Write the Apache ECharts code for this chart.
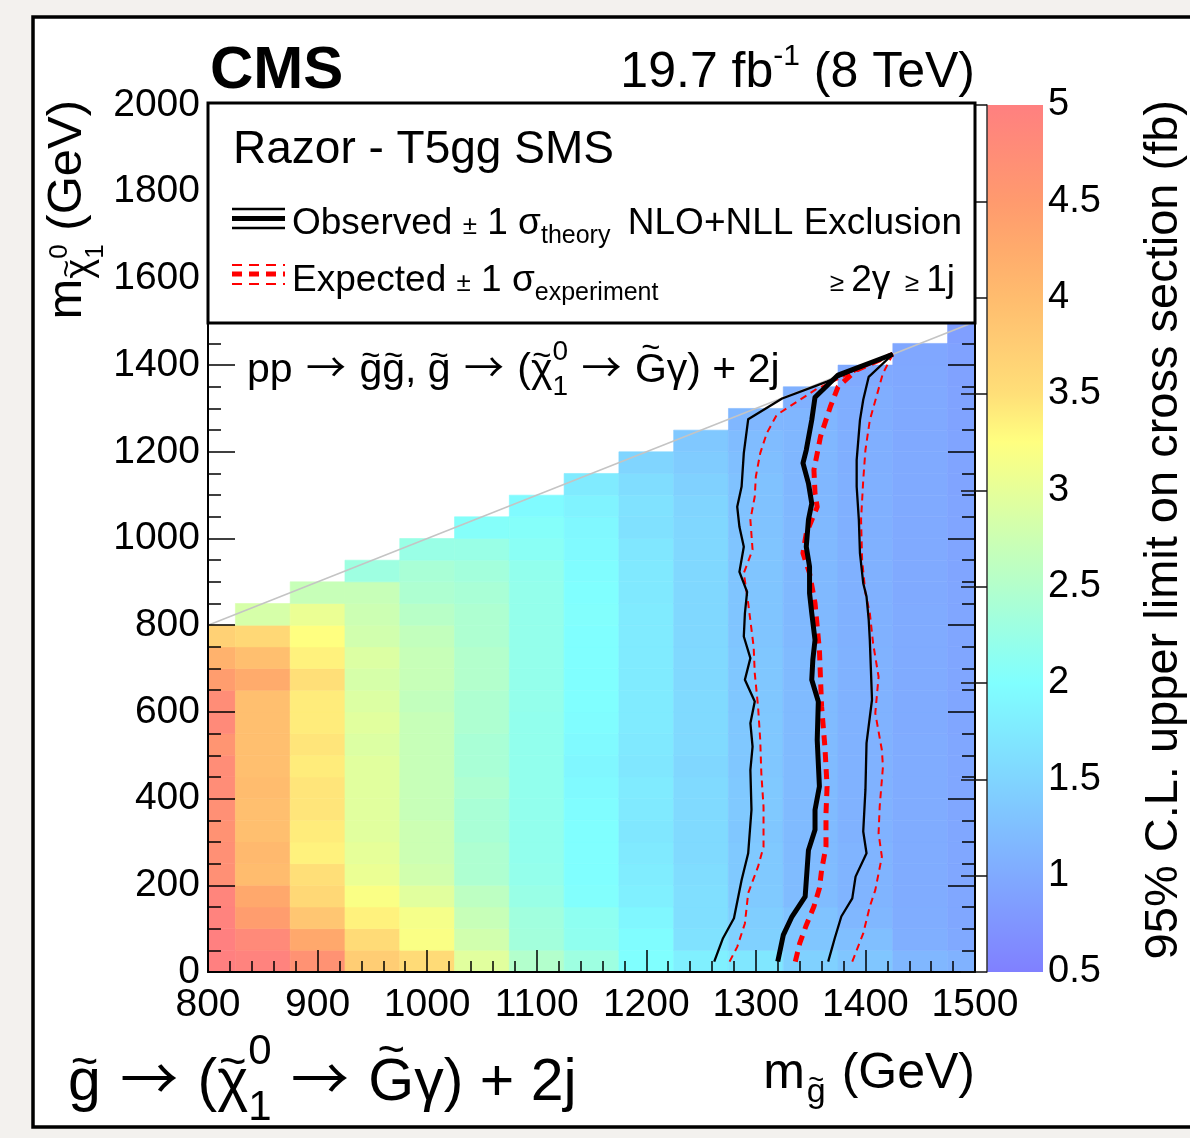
<!DOCTYPE html>
<html>
<head>
<meta charset="utf-8">
<script src="https://cdn.jsdelivr.net/npm/echarts/dist/echarts.min.js"></script>
<style>
  html, body { margin: 0; padding: 0; background: #f3f1ee; }
  #chart { width: 1190px; height: 1138px; }
</style>
</head>
<body>
<div id="chart"></div>
<script>
// ---------------------------------------------------------------
// T5gg razor search: 95% CL upper limit on the cross section (fb)
// per gluino mass column, one value per 50 GeV neutralino-mass bin
// (bottom bin first).
// ---------------------------------------------------------------
const gluinoMasses = [800, 850, 900, 950, 1000, 1050, 1100, 1150, 1200, 1250, 1300, 1350, 1400, 1450, 1500];

const ul800  = [5.0, 5.0, 4.95, 4.9, 4.7, 4.7, 4.65, 4.7, 4.75, 4.75, 4.6, 4.8, 4.75, 4.45, 4.15, 3.7];
const ul850  = [4.95, 4.8, 4.45, 4.3, 4.0, 4.05, 3.95, 3.95, 4.0, 3.95, 3.95, 3.95, 3.95, 4.25, 3.95, 3.6, 2.85];
const ul900  = [4.65, 4.3, 3.85, 3.6, 3.5, 3.35, 3.4, 3.45, 3.45, 3.4, 3.45, 3.4, 3.4, 3.5, 3.35, 3.25, 3.05, 2.7];
const ul950  = [3.75, 3.55, 3.35, 3.2, 3.05, 3.0, 2.95, 2.95, 2.95, 2.95, 2.9, 2.95, 2.9, 2.85, 2.9, 2.8, 2.75, 2.7, 2.3];
const ul1000 = [3.55, 3.2, 3.15, 2.95, 2.8, 2.75, 2.75, 2.7, 2.7, 2.7, 2.7, 2.7, 2.65, 2.7, 2.7, 2.65, 2.55, 2.45, 2.4, 2.25];
const ul1050 = [2.95, 2.8, 2.7, 2.6, 2.45, 2.45, 2.4, 2.4, 2.45, 2.4, 2.4, 2.45, 2.45, 2.5, 2.5, 2.45, 2.45, 2.4, 2.35, 2.25, 2.05];
const ul1100 = [2.5, 2.35, 2.33, 2.25, 2.2, 2.18, 2.18, 2.18, 2.18, 2.18, 2.18, 2.18, 2.2, 2.2, 2.2, 2.2, 2.2, 2.2, 2.18, 2.1, 2.05, 1.95];
const ul1150 = [2.3, 2.16, 2.14, 2.02, 2.0, 2.0, 2.0, 1.98, 1.94, 1.9, 1.94, 1.98, 2.0, 2.0, 2.0, 2.0, 2.02, 2.0, 1.98, 1.94, 1.92, 1.86, 1.76];
const ul1200 = [2.0, 1.98, 1.9, 1.82, 1.78, 1.75, 1.72, 1.75, 1.76, 1.72, 1.74, 1.76, 1.76, 1.76, 1.76, 1.76, 1.76, 1.74, 1.74, 1.72, 1.64, 1.66, 1.6, 1.5];
const ul1250 = [1.82, 1.66, 1.62, 1.62, 1.6, 1.56, 1.56, 1.56, 1.56, 1.52, 1.56, 1.56, 1.56, 1.55, 1.55, 1.54, 1.54, 1.54, 1.54, 1.54, 1.52, 1.5, 1.46, 1.4, 1.35];
const ul1300 = [1.72, 1.46, 1.42, 1.38, 1.36, 1.36, 1.34, 1.36, 1.36, 1.34, 1.35, 1.35, 1.34, 1.34, 1.34, 1.32, 1.32, 1.32, 1.32, 1.32, 1.3, 1.28, 1.28, 1.25, 1.22, 1.16];
const ul1350 = [1.45, 1.33, 1.3, 1.22, 1.22, 1.2, 1.2, 1.2, 1.2, 1.2, 1.2, 1.2, 1.2, 1.2, 1.2, 1.18, 1.18, 1.18, 1.18, 1.18, 1.18, 1.17, 1.16, 1.16, 1.15, 1.14, 1.08];
const ul1400 = [1.33, 1.25, 1.15, 1.12, 1.12, 1.12, 1.1, 1.1, 1.1, 1.1, 1.1, 1.1, 1.1, 1.1, 1.1, 1.08, 1.08, 1.08, 1.08, 1.08, 1.07, 1.07, 1.07, 1.06, 1.06, 1.05, 1.05, 1.0];
const ul1450 = [1.16, 1.06, 1.03, 1.02, 1.02, 1.02, 1.02, 1.02, 1.02, 1.02, 1.02, 1.01, 1.01, 1.01, 1.01, 1.01, 1.01, 1.0, 1.0, 1.0, 1.0, 1.0, 1.0, 1.0, 0.99, 0.99, 0.99, 0.98, 0.97];
const ul1500 = [1.1, 0.99, 0.97, 0.97, 0.96, 0.96, 0.96, 0.96, 0.96, 0.96, 0.96, 0.95, 0.95, 0.95, 0.95, 0.95, 0.95, 0.95, 0.94, 0.94, 0.94, 0.94, 0.93, 0.93, 0.93, 0.92, 0.92, 0.91, 0.9, 0.87];

const upperLimits = [ul800, ul850, ul900, ul950, ul1000, ul1050, ul1100, ul1150, ul1200, ul1250, ul1300, ul1350, ul1400, ul1450, ul1500];

// Exclusion contours, [m_gluino, m_neutralino] in GeV
const observed = [[1320,24],[1325,85],[1333,128],[1345,174],[1348,281],[1354,328],[1354,374],[1358,428],[1356,535],[1357,624],[1351,674],[1352,720],[1354,766],[1351,828],[1349,874],[1349,935],[1346,981],[1348,1043],[1351,1081],[1348,1127],[1343,1174],[1346,1204],[1351,1273],[1354,1326],[1375,1377],[1425,1425]];
const observedMinus = [[1262,24],[1270,78],[1280,124],[1287,212],[1293,274],[1296,374],[1295,466],[1297,520],[1295,574],[1299,624],[1290,674],[1295,724],[1289,774],[1290,827],[1292,877],[1285,923],[1289,981],[1285,1027],[1283,1073],[1287,1120],[1289,1197],[1293,1275],[1324,1323],[1365,1362],[1425,1425]];
const observedPlus = [[1366,24],[1372,78],[1378,128],[1388,170],[1391,220],[1401,274],[1398,324],[1400,420],[1401,528],[1406,628],[1404,766],[1403,812],[1401,866],[1398,897],[1395,966],[1394,1043],[1392,1120],[1392,1181],[1395,1273],[1398,1320],[1403,1373],[1425,1425]];
const expected = [[1336,24],[1340,66],[1346,108],[1353,151],[1358,193],[1360,235],[1364,289],[1364,366],[1365,428],[1363,520],[1360,612],[1358,743],[1354,851],[1349,920],[1343,966],[1346,1012],[1356,1073],[1354,1104],[1353,1158],[1359,1235],[1368,1304],[1375,1350],[1392,1389],[1425,1425]];
const expectedMinus = [[1276,24],[1283,58],[1290,112],[1293,182],[1302,243],[1307,289],[1307,381],[1305,458],[1304,535],[1302,612],[1299,689],[1298,750],[1293,851],[1289,920],[1297,974],[1295,1043],[1299,1097],[1300,1143],[1304,1197],[1310,1243],[1319,1285],[1356,1346],[1425,1425]];
const expectedPlus = [[1388,24],[1398,89],[1404,151],[1409,189],[1415,266],[1412,320],[1413,381],[1416,474],[1415,512],[1409,597],[1412,681],[1407,758],[1404,828],[1400,874],[1397,950],[1396,1043],[1398,1135],[1400,1204],[1404,1273],[1410,1327],[1416,1381],[1425,1425]];

// m_neutralino = m_gluino kinematic boundary
const diagonal = [[800, 800], [1500, 1500]];

// colour scale range (fb)
const colorRange = [0.5, 5];

// ---------------------------------------------------------------
const FAMILY = '"Liberation Sans", Arial, Helvetica, sans-serif';
const ARROW_FAMILY = '"Noto Sans CJK SC", "DejaVu Sans", sans-serif';
const BIN_HALF_WIDTH = 25;   // GeV, gluino-mass bin half width
const ROW_HEIGHT = 50;       // GeV, neutralino-mass bin height

// pastel rainbow palette, evenly spaced from 0.5 to 5 fb
const PALETTE = ['#8080ff', '#8095ff', '#80aaff', '#80bfff', '#80d5ff', '#80eaff', '#80ffff',
  '#99ffe6', '#b3ffcc', '#ccffb3', '#e6ff99', '#ffff80', '#ffdf78', '#ffcd74', '#ffbc6e',
  '#ffab6c', '#ff9a6e', '#ff8d77', '#ff8080'];

const cells = [];
gluinoMasses.forEach((mg, c) => {
  upperLimits[c].forEach((v, r) => cells.push([mg, r * ROW_HEIGHT, v]));
});

// ---- text helpers: baseline-positioned runs with sub/superscripts and tildes
const meter = document.createElement('canvas').getContext('2d');
const liftCache = {};
function fontOf(size, bold, family) { return (bold ? 'bold ' : '') + size + 'px ' + (family || FAMILY); }
function measure(text, size, bold, family) { meter.font = fontOf(size, bold, family); return meter.measureText(text).width; }
function baselineLift(size, bold, family) {
  const key = size + (bold ? 'b' : '') + (family || '');
  if (liftCache[key] == null) {
    meter.font = fontOf(size, bold, family);
    meter.textBaseline = 'alphabetic';
    const a = meter.measureText('H').actualBoundingBoxAscent;
    meter.textBaseline = 'middle';
    const m = meter.measureText('H').actualBoundingBoxAscent;
    meter.textBaseline = 'alphabetic';
    liftCache[key] = a - m;
  }
  return liftCache[key];
}
function textEl(text, x, baseline, size, bold, z, family) {
  return {
    type: 'text', z: z, silent: true,
    style: {
      text: text, x: x, y: baseline - baselineLift(size, bold, family), font: fontOf(size, bold, family), fill: '#000',
      textAlign: 'left', align: 'left', textVerticalAlign: 'middle', verticalAlign: 'middle'
    }
  };
}
function formula(parts, opt) {
  const z = opt.z || 60;
  const items = parts.map(p => {
    const s = p.s || opt.size;
    return { p: p, s: s, w: measure(p.t, s, p.b, p.f) + (p.pad || 0) * 2 };
  });
  const total = items.reduce((acc, it) => acc + (it.p.keepX ? 0 : it.w), 0);
  let x = opt.align === 'right' ? -total : (opt.align === 'center' ? -total / 2 : 0);
  const children = [];
  items.forEach(({ p, s, w }) => {
    const by = p.dy || 0;
    children.push(textEl(p.t, x + (p.pad || 0), by, s, p.b, z, p.f));
    if (p.tilde) {
      const ts = s * 0.8;
      const tw = measure('~', ts);
      const gw = measure(p.t, s);
      const top = p.tilde === 'cap' ? 0.72 * s : 0.52 * s;
      const centre = by - top - 0.14 * s;
      children.push(textEl('~', x + (p.pad || 0) + (gw - tw) / 2, centre + 0.34 * ts, ts, false, z));
    }
    if (!p.keepX) x += w;
  });
  return { type: 'group', x: opt.x, y: opt.y, rotation: opt.rotation || 0, silent: true, z: z, children: children };
}
function arrow(size, pad) { return { t: '→', s: size, f: ARROW_FAMILY, pad: pad || 0 }; }
function hline(x1, x2, y, color, width, dash) {
  return {
    type: 'line', z: 60, silent: true,
    shape: { x1: x1, y1: y, x2: x2, y2: y },
    style: { stroke: color, lineWidth: width, lineDash: dash || null }
  };
}

// ---- chart
const chart = echarts.init(document.getElementById('chart'), null, { renderer: 'canvas' });

function contour(name, data, color, width, dash, z) {
  return {
    type: 'line', name: name, data: data, xAxisIndex: 0, yAxisIndex: 0,
    showSymbol: false, symbol: 'none', smooth: false, silent: true, z: z,
    lineStyle: { color: color, width: width, type: dash || 'solid', join: 'round', cap: 'butt' }
  };
}

const tickLabel = { color: '#000', fontSize: 39, fontFamily: FAMILY, formatter: v => String(v) };

const option = {
  backgroundColor: '#f3f1ee',
  animation: false,
  grid: [
    { left: 208, top: 105, width: 767, height: 867 },
    { left: 987, top: 105, width: 56, height: 867 }
  ],
  xAxis: [
    {
      gridIndex: 0, type: 'value', min: 800, max: 1500, interval: 100, position: 'bottom', z: 10,
      axisLine: { show: true, onZero: false, lineStyle: { color: '#000', width: 2 } },
      axisTick: { show: true, inside: true, length: 22, lineStyle: { color: '#000', width: 1.5 } },
      minorTick: { show: true, splitNumber: 5, length: 11, lineStyle: { color: '#000', width: 1.5 } },
      splitLine: { show: false },
      axisLabel: Object.assign({ margin: 14 }, tickLabel)
    },
    { gridIndex: 1, type: 'value', min: 0, max: 1, show: false }
  ],
  yAxis: [
    {
      gridIndex: 0, type: 'value', min: 0, max: 2000, interval: 200, position: 'left', z: 10,
      axisLine: { show: true, lineStyle: { color: '#000', width: 2 } },
      axisTick: { show: true, inside: true, length: 27, lineStyle: { color: '#000', width: 1.5 } },
      minorTick: { show: true, splitNumber: 4, length: 13, lineStyle: { color: '#000', width: 1.5 } },
      splitLine: { show: false },
      axisLabel: Object.assign({ margin: 8 }, tickLabel)
    },
    {
      gridIndex: 0, type: 'value', min: 0, max: 2000, interval: 200, position: 'right', z: 10,
      axisLine: { show: true, lineStyle: { color: '#000', width: 2 } },
      axisTick: { show: true, inside: true, length: 27, lineStyle: { color: '#000', width: 1.5 } },
      minorTick: { show: true, splitNumber: 4, length: 13, lineStyle: { color: '#000', width: 1.5 } },
      splitLine: { show: false },
      axisLabel: { show: false }
    },
    {
      gridIndex: 1, type: 'value', min: colorRange[0], max: colorRange[1], interval: 0.5, position: 'right', z: 10,
      axisLine: { show: true, lineStyle: { color: '#333', width: 1.5 } },
      axisTick: { show: true, inside: true, length: 26, lineStyle: { color: '#111', width: 1.5 } },
      splitLine: { show: false },
      axisLabel: { color: '#000', fontSize: 38, fontFamily: FAMILY, margin: 5, formatter: v => String(v) }
    }
  ],
  visualMap: {
    show: false, type: 'continuous', seriesIndex: 0, dimension: 2,
    min: colorRange[0], max: colorRange[1], inRange: { color: PALETTE }
  },
  series: [
    {
      type: 'custom', name: 'upper limit', data: cells, xAxisIndex: 0, yAxisIndex: 0,
      encode: { x: 0, y: 1 }, clip: true, silent: true, z: 1,
      renderItem: function (params, api) {
        const mg = api.value(0), lo = api.value(1);
        const p0 = api.coord([mg - BIN_HALF_WIDTH, lo + ROW_HEIGHT]);
        const p1 = api.coord([mg + BIN_HALF_WIDTH, lo]);
        const cs = params.coordSys;
        const rect = echarts.graphic.clipRectByRect(
          { x: p0[0], y: p0[1], width: p1[0] - p0[0], height: p1[1] - p0[1] },
          { x: cs.x, y: cs.y, width: cs.width, height: cs.height });
        if (!rect) return null;
        const c = api.visual('color');
        return { type: 'rect', shape: rect, style: { fill: c, stroke: c, lineWidth: 0.6 } };
      }
    },
    {
      type: 'line', name: 'diagonal', data: diagonal, xAxisIndex: 0, yAxisIndex: 0,
      showSymbol: false, symbol: 'none', silent: true, z: 3,
      lineStyle: { color: '#c4c4c4', width: 1.5 }
    },
    contour('expected -1 sigma', expectedMinus, '#ff0000', 2, [7, 5], 4),
    contour('expected +1 sigma', expectedPlus, '#ff0000', 2, [7, 5], 4),
    contour('expected', expected, '#ff0000', 5, [10, 7], 5),
    contour('observed -1 sigma', observedMinus, '#000', 2.3, null, 6),
    contour('observed +1 sigma', observedPlus, '#000', 2.3, null, 6),
    contour('observed', observed, '#000', 5, null, 7),
    {
      type: 'custom', name: 'colour scale', data: [colorRange], xAxisIndex: 1, yAxisIndex: 2,
      encode: { x: 0, y: 1 }, silent: true, z: 1,
      renderItem: function (params, api) {
        const top = api.coord([0, api.value(1)]);
        const bottom = api.coord([1, api.value(0)]);
        const n = PALETTE.length - 1;
        const stops = PALETTE.map((c, i) => ({ offset: 1 - i / n, color: c })).reverse();
        return {
          type: 'rect',
          shape: { x: top[0], y: top[1], width: bottom[0] - top[0], height: bottom[1] - top[1] },
          style: { fill: new echarts.graphic.LinearGradient(0, 0, 0, 1, stops) }
        };
      }
    }
  ],
  graphic: [
    // page frame
    { type: 'rect', z: -1, silent: true, shape: { x: 33, y: 17, width: 1200, height: 1110 },
      style: { fill: '#fff', stroke: '#000', lineWidth: 3.5 } },
    // legend box
    { type: 'rect', z: 50, silent: true, shape: { x: 208, y: 103, width: 767, height: 220 },
      style: { fill: '#fff', stroke: '#000', lineWidth: 3 } },
    hline(232, 285, 209, '#000', 2.3),
    hline(232, 285, 218.5, '#000', 5),
    hline(232, 285, 228, '#000', 2.3),
    hline(232, 285, 265, '#ff0000', 2, [10, 7]),
    hline(232, 285, 274, '#ff0000', 5, [10, 7]),
    hline(232, 285, 284, '#ff0000', 2, [10, 7]),
    formula([{ t: 'Razor - T5gg SMS' }], { x: 233, y: 163, size: 46 }),
    formula([{ t: 'Observed ' }, { t: '±', s: 26 }, { t: ' 1 ' }, { t: 'σ' }, { t: 'theory', s: 25, dy: 9 }],
      { x: 292, y: 234, size: 37 }),
    formula([{ t: 'NLO+NLL Exclusion' }], { x: 962, y: 234, size: 37, align: 'right' }),
    formula([{ t: 'Expected ' }, { t: '±', s: 26 }, { t: ' 1 ' }, { t: 'σ' }, { t: 'experiment', s: 25, dy: 9 }],
      { x: 292, y: 291, size: 37 }),
    formula([{ t: '≥ ', s: 26 }, { t: '2' }, { t: 'γ' }, { t: '  ', s: 26 }, { t: '≥ ', s: 26 }, { t: '1j' }],
      { x: 955, y: 291, size: 37, align: 'right' }),
    // header
    formula([{ t: 'CMS', b: true }], { x: 210, y: 88, size: 60 }),
    formula([{ t: '19.7 fb' }, { t: '-1', s: 30, dy: -22 }, { t: ' (8 TeV)' }], { x: 975, y: 87, size: 50, align: 'right' }),
    // process annotation
    formula([{ t: 'pp ' }, arrow(40, 2), { t: ' ' }, { t: 'g', tilde: 'x' }, { t: 'g', tilde: 'x' }, { t: ', ' },
      { t: 'g', tilde: 'x' }, { t: ' ' }, arrow(40, 2), { t: ' (' }, { t: 'χ', tilde: 'x' },
      { t: '0', s: 28, dy: -22, keepX: true }, { t: '1', s: 28, dy: 13 }, { t: ' ' }, arrow(40, 2), { t: ' ' },
      { t: 'G', tilde: 'cap' }, { t: 'γ' }, { t: ') + 2j' }],
      { x: 247, y: 382, size: 41 }),
    formula([{ t: 'g', tilde: 'x' }, { t: ' ' }, arrow(58, 3), { t: ' (' }, { t: 'χ', tilde: 'x' },
      { t: '0', s: 42, dy: -36, keepX: true }, { t: '1', s: 42, dy: 20 }, { t: ' ' }, arrow(58, 3), { t: ' ' },
      { t: 'G', tilde: 'cap' }, { t: 'γ' }, { t: ') + 2j' }],
      { x: 68, y: 1100, size: 59 }),
    // axis titles
    formula([{ t: 'm' }, { t: 'g', s: 34, dy: 14, tilde: 'x', pad: 2 }, { t: ' (GeV)' }],
      { x: 975, y: 1088, size: 50, align: 'right' }),
    formula([{ t: 'm' }, { t: 'χ', s: 38, dy: 10, tilde: 'x' }, { t: '0', s: 26, dy: -14, keepX: true },
      { t: '1', s: 26, dy: 22 }, { t: ' (GeV)' }],
      { x: 81, y: 100, size: 49, align: 'right', rotation: Math.PI / 2 }),
    formula([{ t: '95% C.L. upper limit on cross section (fb)' }],
      { x: 1177, y: 100, size: 47, align: 'right', rotation: Math.PI / 2 })
  ]
};

chart.setOption(option);
</script>
</body>
</html>
